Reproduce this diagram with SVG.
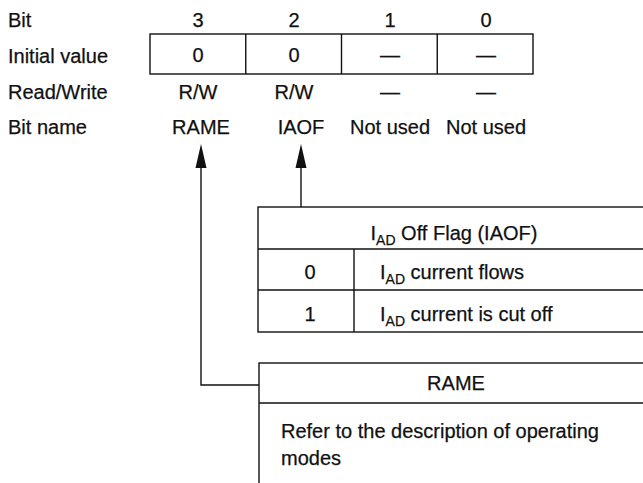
<svg xmlns="http://www.w3.org/2000/svg" width="643" height="483" viewBox="0 0 643 483">
<style>
text{font-family:"Liberation Sans",Arial,sans-serif;font-size:20px;fill:#111;stroke:#111;stroke-width:0.25}
.c{text-anchor:middle}
.ln{fill:none;stroke:#111;stroke-width:1.4}
.ah{fill:#111;stroke:none}
.sub{font-size:14px}
</style>
<rect width="643" height="483" fill="#fff"/>
<g id="labels">
<text x="8" y="27">Bit</text>
<text x="8" y="63">Initial value</text>
<text x="8" y="99">Read/Write</text>
<text x="8" y="134">Bit name</text>
</g>
<g id="register">
<rect class="ln" x="150" y="34" width="383" height="40"/>
<line class="ln" x1="245.75" y1="34" x2="245.75" y2="74"/>
<line class="ln" x1="341.5" y1="34" x2="341.5" y2="74"/>
<line class="ln" x1="437.25" y1="34" x2="437.25" y2="74"/>
<text class="c" x="198" y="27">3</text>
<text class="c" x="294" y="27">2</text>
<text class="c" x="390" y="27">1</text>
<text class="c" x="486" y="27">0</text>
<text class="c" x="198" y="62">0</text>
<text class="c" x="294" y="62">0</text>
<text class="c" x="390" y="62">—</text>
<text class="c" x="486" y="62">—</text>
<text class="c" x="198" y="99">R/W</text>
<text class="c" x="294" y="99">R/W</text>
<text class="c" x="390" y="99">—</text>
<text class="c" x="486" y="99">—</text>
<text class="c" x="201" y="134">RAME</text>
<text class="c" x="301" y="134">IAOF</text>
<text class="c" x="390" y="134">Not used</text>
<text class="c" x="486" y="134">Not used</text>
</g>
<g id="connectors">
<path class="ln" d="M201 160 V385 H259"/>
<polygon class="ah" points="201,144 206.5,168 195.5,168"/>
<path class="ln" d="M301 160 V207"/>
<polygon class="ah" points="301,144 306.5,168 295.5,168"/>
</g>
<g id="iaof-table">
<rect class="ln" x="258" y="207" width="400" height="125"/>
<line class="ln" x1="258" y1="249" x2="658" y2="249"/>
<line class="ln" x1="258" y1="290" x2="658" y2="290"/>
<line class="ln" x1="354" y1="249" x2="354" y2="332"/>
<text class="c" x="454" y="240">I<tspan class="sub" dy="5">AD</tspan><tspan dy="-5"> Off Flag (IAOF)</tspan></text>
<text class="c" x="310" y="279">0</text>
<text x="380" y="279">I<tspan class="sub" dy="5">AD</tspan><tspan dy="-5"> current flows</tspan></text>
<text class="c" x="310" y="321">1</text>
<text x="380" y="321">I<tspan class="sub" dy="5">AD</tspan><tspan dy="-5"> current is cut off</tspan></text>
</g>
<g id="rame-table">
<rect class="ln" x="259" y="363" width="400" height="140"/>
<line class="ln" x1="259" y1="403" x2="659" y2="403"/>
<text class="c" x="456" y="390">RAME</text>
<text x="281" y="438">Refer to the description of operating</text>
<text x="281" y="465">modes</text>
</g>
</svg>
